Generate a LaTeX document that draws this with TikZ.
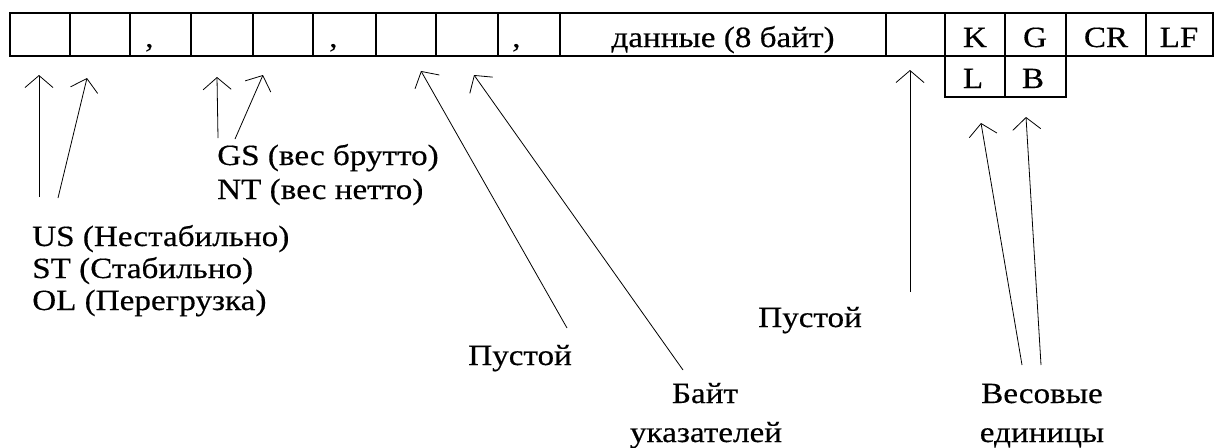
\documentclass[tikz,border=0pt]{standalone}
\usepackage{fontspec}
\setmainfont{Liberation Serif}[FakeStretch=1.13,FakeBold=0.4]
\usetikzlibrary{arrows.meta}
\begin{document}
\begin{tikzpicture}[x=0.75pt,y=-0.75pt,
  lbl/.style={inner sep=0pt,font=\fontsize{22}{26}\selectfont,anchor=base west},
  ctr/.style={inner sep=0pt,font=\fontsize{22}{26}\selectfont,anchor=base},
  cellbox/.style={draw,line width=1.1pt},
  arr/.style={-{Straight Barb[length=9pt,width=21pt]},line width=0.6pt}
]
\useasboundingbox (0,0) rectangle (1216,447);
% top row
\draw[cellbox] (10,13) rectangle (1213,56);
\foreach \x in {70,130,191,253,313,376,436,498,560,886,945,1005,1066,1146}
  \draw[cellbox] (\x,13) -- (\x,56);
% second row
\draw[cellbox] (945,56) -- (945,97) -- (1066,97) -- (1066,56);
\draw[cellbox] (1005,56) -- (1005,97);
% cell texts
\node[lbl] (c1) at (145,47) {,};
\node[lbl] (c2) at (329,47) {,};
\node[lbl] (c3) at (512,47) {,};
\node[ctr] (data) at (723,47) {данные (8 байт)};
\node[ctr] (k) at (975,47) {K};
\node[ctr] (g) at (1035,47) {G};
\node[ctr] (cr) at (1106,47) {CR};
\node[ctr] (lf) at (1179,47) {LF};
\node[ctr] (l) at (973,88) {L};
\node[ctr] (b) at (1033,88) {B};
% labels
\node[lbl] (us) at (32,246) {US (Нестабильно)};
\node[lbl] (st) at (32,278) {ST (Стабильно)};
\node[lbl] (ol) at (32,310) {OL (Перегрузка)};
\node[lbl] (gs) at (217,165) {GS (вес брутто)};
\node[lbl] (nt) at (217,199) {NT (вес нетто)};
\node[lbl] (empty1) at (468,365) {Пустой};
\node[ctr] (bayt) at (705,403) {Байт};
\node[ctr] (ukaz) at (706,442) {указателей};
\node[lbl] (empty2) at (758,327) {Пустой};
\node[ctr] (ves) at (1042,403) {Весовые};
\node[ctr] (ed) at (1042,442) {единицы};
% arrow ends
\coordinate (a1b) at (39,197);  \coordinate (a1t) at (39,75);
\coordinate (a2b) at (58,198);  \coordinate (a2t) at (87,78);
\coordinate (a3b) at (218,138); \coordinate (a3t) at (217,77);
\coordinate (a4b) at (235,139); \coordinate (a4t) at (263,75);
\coordinate (a5b) at (567,328); \coordinate (a5t) at (421,71);
\coordinate (a6b) at (683,370); \coordinate (a6t) at (474,75);
\coordinate (a7b) at (910,292); \coordinate (a7t) at (910,70);
\coordinate (a8b) at (1022,365); \coordinate (a8t) at (981,123);
\coordinate (a9b) at (1041,365); \coordinate (a9t) at (1026,117);
\foreach \i in {1,...,9}
  \draw[arr] (a\i b) -- (a\i t);
\end{tikzpicture}
\end{document}
